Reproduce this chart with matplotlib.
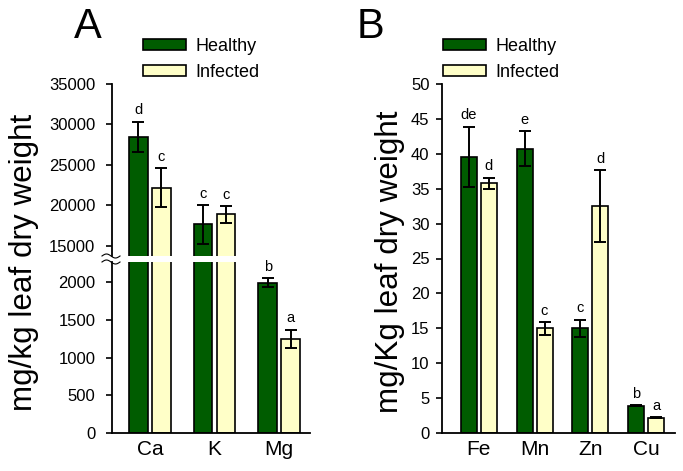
import numpy as np
import matplotlib
matplotlib.use("Agg")
import matplotlib.pyplot as plt

plt.rcParams['font.family'] = ['Liberation Sans', 'DejaVu Sans']

# panel A: macro elements (mg/kg)
macro = ["Ca", "K", "Mg"]
macro_healthy = [28450, 17700, 1990]
macro_healthy_err = [1900, 2400, 60]
macro_infected = [22200, 18900, 1245]
macro_infected_err = [2400, 1050, 125]
macro_healthy_lab = ["d", "c", "b"]
macro_infected_lab = ["c", "c", "a"]

# panel B: micro elements (mg/Kg)
micro = ["Fe", "Mn", "Zn", "Cu"]
micro_healthy = [39.6, 40.7, 15.0, 3.9]
micro_healthy_err = [4.3, 2.5, 1.25, 0.05]
micro_infected = [35.8, 15.0, 32.5, 2.2]
micro_infected_err = [0.8, 0.9, 5.2, 0.05]
micro_healthy_lab = ["de", "e", "c", "b"]
micro_infected_lab = ["d", "c", "d", "a"]

green = "#005c00"
yellow = "#ffffc8"
W, H = 683, 471

fig = plt.figure(figsize=(W / 100, H / 100), dpi=100)


def fx(px):
    return px / W


def fy(py):
    return 1 - py / H


def style(ax, pad):
    ax.spines['right'].set_visible(False)
    ax.spines['top'].set_visible(False)
    ax.tick_params(axis='y', direction='out', length=4, width=1.2, labelsize=12, pad=pad)
    ax.tick_params(axis='x', length=0, labelsize=15, pad=5)
    for s in ax.spines.values():
        s.set_linewidth(1.3)


def draw_bars(ax, x, hv, he, iv, ie, width, off):
    ekw = dict(elinewidth=1.4, capsize=4.5, capthick=1.4, ecolor='black')
    ax.bar(x - off, hv, width, color=green, edgecolor='black', linewidth=1.2,
           yerr=he, error_kw=ekw, label='Healthy')
    ax.bar(x + off, iv, width, color=yellow, edgecolor='black', linewidth=1.2,
           yerr=ie, error_kw=ekw, label='Infected')


def add_letters(ax, x, vals, errs, labs, lo, hi):
    for xi, v, e, t in zip(x, vals, errs, labs):
        top = v + e
        if lo <= top <= hi:
            ax.annotate(t, (xi, top), xytext=(0, 3), textcoords='offset points',
                        ha='center', va='bottom', fontsize=10.5)


# ---- panel A (broken axis) ----
xa = np.arange(len(macro))
axu = fig.add_axes([fx(112), fy(256), fx(310) - fx(112), fy(84) - fy(256)])
axl = fig.add_axes([fx(112), fy(433), fx(310) - fx(112), fy(262) - fy(433)])
for ax in (axu, axl):
    style(ax, 8)
    draw_bars(ax, xa, macro_healthy, macro_healthy_err, macro_infected,
              macro_infected_err, 0.29, 0.177)
    ax.set_xlim(-0.585, 2.477)
axu.set_ylim(13765, 35000)
axu.set_yticks([15000, 20000, 25000, 30000, 35000])
axu.spines['bottom'].set_visible(False)
axu.set_xticks([])
axl.set_ylim(0, 2265)
axl.set_yticks([0, 500, 1000, 1500, 2000])
axl.set_xticks(xa)
axl.set_xticklabels(macro)
add_letters(axu, xa - 0.177, macro_healthy, macro_healthy_err, macro_healthy_lab, 13765, 35000)
add_letters(axu, xa + 0.177, macro_infected, macro_infected_err, macro_infected_lab, 13765, 35000)
add_letters(axl, xa - 0.177, macro_healthy, macro_healthy_err, macro_healthy_lab, 0, 2265)
add_letters(axl, xa + 0.177, macro_infected, macro_infected_err, macro_infected_lab, 0, 2265)

# break marks on the axis
t = np.linspace(0, 1, 40)
for yb in (256, 262):
    fig.add_artist(plt.Line2D(fx(102 + 18 * t), fy(yb - 2.0 * np.sin(2 * np.pi * t)),
                              color='black', linewidth=0.8))

axu.legend(loc='upper left', bbox_to_anchor=(fx(143), fy(38)), bbox_transform=fig.transFigure,
           frameon=False, fontsize=13, handlelength=2.4, handleheight=0.6,
           handletextpad=0.5, labelspacing=0.5, borderpad=0, borderaxespad=0)

fig.text(fx(24), fy(262), "mg/kg leaf dry weight", rotation=90, ha='center', va='center',
         fontsize=22.6)
fig.text(fx(74), fy(38), "A", fontsize=30, va='baseline')

# ---- panel B ----
xb = np.arange(len(micro))
axb = fig.add_axes([fx(442), fy(433), fx(675) - fx(442), fy(84) - fy(433)])
style(axb, 5)
draw_bars(axb, xb, micro_healthy, micro_healthy_err, micro_infected, micro_infected_err,
          0.286, 0.179)
axb.set_xlim(-0.66, 3.518)
axb.set_ylim(0, 50)
axb.set_yticks(np.arange(0, 51, 5))
axb.set_xticks(xb)
axb.set_xticklabels(micro)
add_letters(axb, xb - 0.179, micro_healthy, micro_healthy_err, micro_healthy_lab, 0, 50)
add_letters(axb, xb + 0.179, micro_infected, micro_infected_err, micro_infected_lab, 0, 50)
axb.legend(loc='upper left', bbox_to_anchor=(fx(443), fy(38)), bbox_transform=fig.transFigure,
           frameon=False, fontsize=13, handlelength=2.4, handleheight=0.6,
           handletextpad=0.5, labelspacing=0.5, borderpad=0, borderaxespad=0)

fig.text(fx(390), fy(262), "mg/Kg leaf dry weight", rotation=90, ha='center', va='center',
         fontsize=22.6)
fig.text(fx(357), fy(38), "B", fontsize=30, va='baseline')

fig.savefig("out.png", dpi=100)
